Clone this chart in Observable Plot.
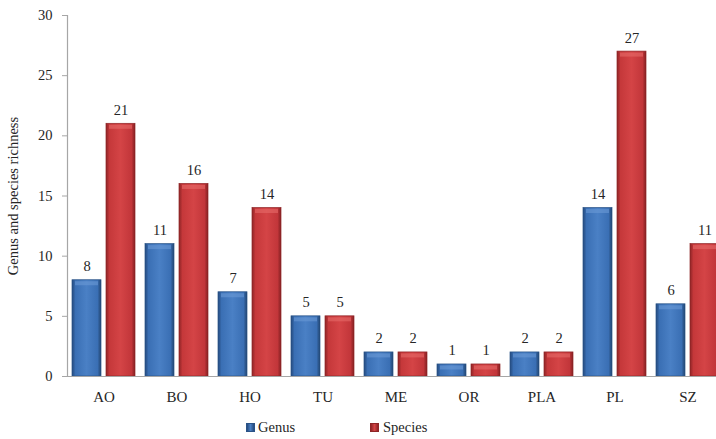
<!DOCTYPE html>
<html><head><meta charset="utf-8">
<script src="https://cdn.jsdelivr.net/npm/d3@7"></script>
<script src="https://cdn.jsdelivr.net/npm/@observablehq/plot@0.6"></script>
<style>
body{margin:0;background:#fff;font-family:"Liberation Serif","Times New Roman",Times,"DejaVu Serif",serif;}
#wrap{position:relative;width:716px;height:439px;overflow:hidden;background:#fff;}
#wrap svg{position:absolute;left:0;top:0;}
#wrap svg text{font-family:"Liberation Serif","Times New Roman",Times,"DejaVu Serif",serif !important;}
.leg{position:absolute;top:419px;font-size:14.5px;color:#262626;line-height:16px;}
.sw{position:absolute;top:423px;width:9px;height:9px;box-sizing:border-box;}
</style></head><body><div id="wrap"></div>
<script>
const categories = ["AO","BO","HO","TU","ME","OR","PLA","PL","SZ"];
const genus = [8,11,7,5,2,1,2,14,6];
const species = [21,16,14,5,2,1,2,27,11];
const yTicks = [0,5,10,15,20,25,30];
const seriesNames = ["Genus","Species"];
const yTitle = "Genus and species richness";

const gData = categories.map((c,i)=>({cat:c, value:genus[i]}));
const sData = categories.map((c,i)=>({cat:c, value:species[i]}));

const axisColor = "#a6a6a6";
const textColor = "#262626";
const serif = "'Liberation Serif', 'Times New Roman', Times, 'DejaVu Serif', serif";

const plot = Plot.plot({
  width: 716, height: 415,
  marginLeft: 67, marginRight: 0, marginTop: 15, marginBottom: 39,
  style: {fontFamily: serif, fontSize: "14.5px", color: textColor, background: "transparent", overflow: "hidden"},
  x: {domain: categories, range: [67, 724], padding: 0, label: null},
  y: {domain: [0, 30], label: null},
  marks: [
    Plot.barY(gData, {x:"cat", y:"value", insetLeft:5, insetRight:39, fill:"url(#gBlue)", stroke:"#2a5387", strokeWidth:0.7}),
    Plot.barY(sData, {x:"cat", y:"value", insetLeft:39, insetRight:5, fill:"url(#gRed)", stroke:"#8f2527", strokeWidth:0.7}),
    Plot.tickY(gData, {x:"cat", y:"value", insetLeft:8, insetRight:42, dy:3, strokeWidth:4, stroke:"#6b9ad6", strokeOpacity:0.6}),
    Plot.tickY(sData, {x:"cat", y:"value", insetLeft:42, insetRight:8, dy:3, strokeWidth:4, stroke:"#e66a69", strokeOpacity:0.6}),
    Plot.text(gData, {x:"cat", y:"value", text:d=>String(d.value), dx:-17, dy:-9, lineAnchor:"bottom", fill:textColor, fontSize:14.5}),
    Plot.text(sData, {x:"cat", y:"value", text:d=>String(d.value), dx:17, dy:-9, lineAnchor:"bottom", fill:textColor, fontSize:14.5}),
    Plot.ruleY([0], {stroke: axisColor, strokeWidth: 1.2}),
    Plot.frame({anchor: "left", stroke: axisColor, strokeWidth: 1.2}),
    Plot.axisY({ticks: yTicks, tickSize: 5, tickPadding: 10, stroke: axisColor, fill: textColor, fontSize: 14.5,
      label: yTitle, labelAnchor: "center", labelArrow: "none", labelOffset: 60}),
    Plot.axisX({tickSize: 0, tickPadding: 15, fontSize: 15, fill: textColor, label: null})
  ]
});

const defs = d3.select(plot).insert("defs", ":first-child");
function grad(id, stops){
  const g = defs.append("linearGradient").attr("id", id).attr("x1","0").attr("x2","1").attr("y1","0").attr("y2","0");
  stops.forEach(([o,c]) => g.append("stop").attr("offset", o).attr("stop-color", c));
}
grad("gBlue", [["0%","#24497c"],["12%","#3a6fb4"],["50%","#4a80c5"],["88%","#3a6fb4"],["100%","#21446f"]]);
grad("gRed", [["0%","#8e2426"],["12%","#c5383a"],["50%","#d44446"],["88%","#c2363a"],["100%","#842022"]]);

const wrap = document.getElementById("wrap");
wrap.appendChild(plot);
const legendItems = [
  {name: seriesNames[0], sw: 246, tx: 258, bg: "linear-gradient(90deg,#24497c,#4a80c5,#24497c)", bd: "#2a5387"},
  {name: seriesNames[1], sw: 370, tx: 383, bg: "linear-gradient(90deg,#8e2426,#d44446,#8e2426)", bd: "#8f2527"}
];
legendItems.forEach(it => {
  const s = document.createElement("div"); s.className = "sw";
  s.style.left = it.sw + "px"; s.style.background = it.bg; s.style.border = "1px solid " + it.bd;
  wrap.appendChild(s);
  const t = document.createElement("div"); t.className = "leg";
  t.style.left = it.tx + "px"; t.textContent = it.name;
  wrap.appendChild(t);
});
</script></body></html>
